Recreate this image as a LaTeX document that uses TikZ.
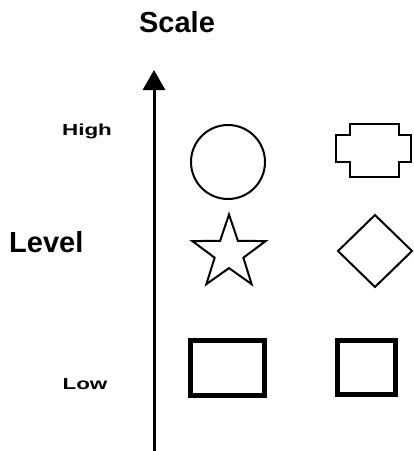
\documentclass[tikz,border=0pt]{standalone}
\usepackage{fontspec}
\setmainfont{Liberation Sans}
\usetikzlibrary{arrows.meta,shapes.geometric}
\begin{document}
\begin{tikzpicture}[x=1pt,y=-1pt,
  bigtxt/.style={font=\fontsize{29}{32}\selectfont\bfseries, inner sep=0pt},
  smalltxt/.style={font=\fontsize{16}{18}\selectfont\bfseries, inner sep=0pt, xscale=1.4},
  thin shape/.style={draw, line width=2pt},
  thick shape/.style={draw, line width=5pt}]
\useasboundingbox (0,0) rectangle (414,451);
\node[bigtxt] (scale) at (177,22) {Scale};
\node[bigtxt, anchor=west] (level) at (9,242) {Level};
\node[smalltxt] (high) at (87,131) {High};
\node[smalltxt] (low) at (85,384) {Low};
\coordinate (abot) at (154,451);
\coordinate (atop) at (154,70);
\draw[line width=3pt, -{Triangle[width=22pt,length=20pt]}] (abot) -- (atop);
% circle
\node[thin shape, circle, minimum size=74pt, inner sep=0pt] (circ) at (228,162) {};
% cross
\draw[thin shape, line width=2.6pt] (350,124) -- (399,124) -- (399,135) -- (411,135) -- (411,162) -- (399,162) -- (399,177) -- (350,177) -- (350,162) -- (336,162) -- (336,135) -- (350,135) -- cycle;
% star
\node[thin shape, star, star points=5, star point ratio=2.55, minimum size=77pt, inner sep=0pt] (star) at (229,253) {};
% diamond
\draw[thin shape] (375,215) -- (412,251) -- (375,287) -- (338,251) -- cycle;
% rectangles
\node[thick shape, rectangle, minimum width=74pt, minimum height=55pt, inner sep=0pt] (rect) at (227.5,368) {};
\node[thick shape, rectangle, minimum width=58pt, minimum height=54pt, inner sep=0pt] (sq) at (366.5,367.5) {};
\end{tikzpicture}
\end{document}
